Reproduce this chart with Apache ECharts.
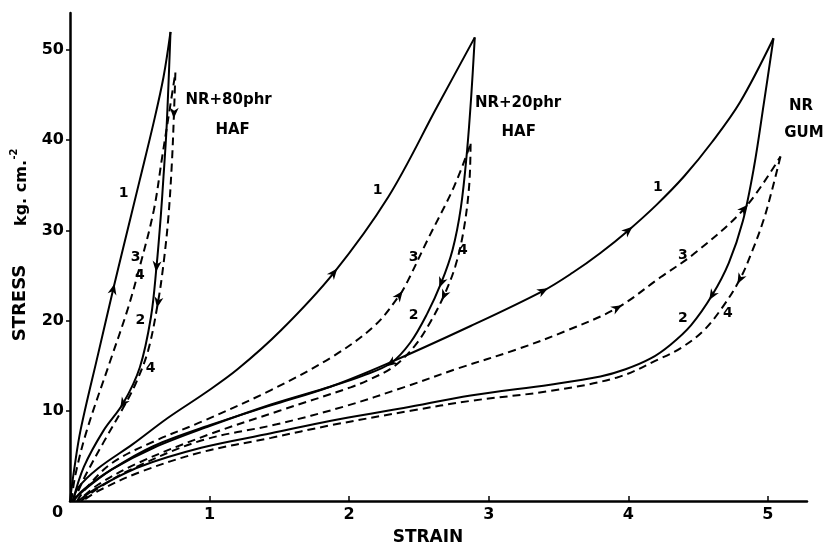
<!DOCTYPE html>
<html>
<head>
<meta charset="utf-8">
<script src="https://cdn.jsdelivr.net/npm/echarts@6/dist/echarts.min.js"></script>
<style>
html, body { margin: 0; padding: 0; background: #fff; }
#chart { width: 827px; height: 547px; }
</style>
</head>
<body>
<div id="chart"></div>
<script>
// [strain, stress]; 1,3 = loading, 2,4 = unloading
var nr80_1 = [[0, 0], [0.03, 3.5], [0.075, 7.8], [0.2, 16.2], [0.31, 23.5], [0.38, 28], [0.5, 35.6], [0.6, 42], [0.67, 47], [0.72, 52]];
var nr80_2 = [[0.72, 52], [0.705, 46], [0.69, 40.8], [0.67, 36], [0.65, 31.5], [0.62, 26], [0.58, 20.4], [0.5, 14.8], [0.38, 10.8], [0.24, 7.8], [0.1, 3.8], [0.02, 0]];
var nr80_3 = [[0.01, 0], [0.04, 3], [0.12, 7.8], [0.29, 15.6], [0.41, 21.1], [0.5, 26], [0.6, 32.2], [0.66, 38.1], [0.72, 44], [0.755, 47.5]];
var nr80_4 = [[0.755, 47.5], [0.745, 43], [0.73, 37.5], [0.705, 31.5], [0.67, 26.3], [0.63, 22], [0.56, 16.7], [0.47, 13], [0.38, 10.3], [0.24, 6.5], [0.1, 2.5], [0.03, 0]];

var nr20_1 = [[0.02, 0], [0.06, 1.5], [0.2, 3.6], [0.45, 6.3], [0.7, 9.2], [0.97, 12], [1.2, 14.6], [1.51, 18.9], [1.89, 25.3], [2.28, 33.7], [2.63, 43.7], [2.9, 51.4]];
var nr20_2 = [[2.9, 51.4], [2.875, 45], [2.845, 38.9], [2.8, 32.5], [2.74, 27.8], [2.66, 24.2], [2.56, 20.8], [2.44, 17.6], [2.3, 15.3], [2.1, 13.9], [1.87, 12.7], [1.44, 10.7], [1.0, 8.3], [0.6, 5.9], [0.3, 3.5], [0.1, 1.3], [0.02, 0]];
var nr20_3 = [[0.05, 0], [0.12, 1.5], [0.3, 4.2], [0.6, 6.6], [0.96, 8.9], [1.44, 12.3], [1.87, 15.9], [2.18, 19.4], [2.36, 22.8], [2.42, 24.4], [2.56, 28.9], [2.75, 34.8], [2.87, 39.6]];
var nr20_4 = [[2.87, 39.6], [2.86, 35], [2.82, 30], [2.76, 26], [2.68, 22.8], [2.58, 19.8], [2.47, 17.2], [2.32, 14.9], [2.15, 13.5], [2.01, 12.6], [1.5, 10], [1.0, 7.4], [0.5, 4.3], [0.2, 1.8], [0.06, 0]];

var gum_1 = [[0.02, 0], [0.1, 1.2], [0.3, 3.5], [0.6, 6.1], [1.0, 8.4], [1.44, 10.6], [1.87, 12.7], [2.27, 15.2], [2.87, 19.4], [3.39, 23.3], [3.6, 25.3], [3.8, 27.5], [4.0, 30], [4.2, 32.8], [4.4, 36], [4.6, 39.8], [4.8, 44.2], [5.04, 51.3]];
var gum_2 = [[5.04, 51.3], [4.97, 44], [4.9, 37], [4.82, 31], [4.72, 26.4], [4.6, 22.8], [4.45, 19.5], [4.3, 17.3], [4.16, 15.8], [3.98, 14.6], [3.8, 13.8], [3.44, 12.9], [2.87, 11.7], [2.39, 10.3], [1.87, 8.9], [1.44, 7.5], [0.94, 5.9], [0.5, 3.8], [0.2, 1.5], [0.06, 0]];
var gum_3 = [[0.08, 0], [0.2, 1.4], [0.45, 3.6], [0.94, 6.7], [1.48, 8.5], [1.97, 10.5], [2.39, 12.6], [2.78, 14.7], [3.2, 16.8], [3.56, 18.9], [3.92, 21.4], [4.23, 24.8], [4.47, 27.4], [4.83, 32.4], [5.09, 38.2]];
var gum_4 = [[5.09, 38.2], [5.03, 34.5], [4.97, 31.2], [4.89, 27.8], [4.8, 24.6], [4.68, 21.6], [4.54, 18.9], [4.38, 17], [4.23, 15.8], [3.92, 13.7], [3.44, 12.2], [2.87, 11.1], [2.44, 10], [1.87, 8.4], [1.44, 7], [0.94, 5.4], [0.5, 3.2], [0.2, 1.1], [0.09, 0]];

var xTicks = [1, 2, 3, 4, 5];
var yTicks = [10, 20, 30, 40, 50];

// arrowheads: curve, strain, stress (they point the way the curve runs)
var arrows = [
  [nr80_1, 0.31, 23.5], [nr80_2, 0.62, 26], [nr80_2, 0.38, 10.8], [nr80_4, 0.63, 22], [nr80_4, 0.745, 43],
  [nr20_1, 1.89, 25.3], [nr20_3, 2.36, 22.8], [nr20_2, 2.66, 24.2], [nr20_4, 2.68, 22.8], [nr20_2, 2.3, 15.3],
  [gum_1, 3.39, 23.3], [gum_1, 4.0, 30], [gum_3, 3.92, 21.4], [gum_3, 4.83, 32.4], [gum_2, 4.6, 22.8], [gum_4, 4.8, 24.6]
];

// curve numbers and group names
var curveNumbers = [
  ['1', 0.384, 34.1], ['3', 0.47, 27.0], ['4', 0.5, 25.0], ['2', 0.505, 20.0], ['4', 0.577, 14.7],
  ['1', 2.204, 34.4], ['3', 2.462, 27.0], ['4', 2.814, 27.8], ['2', 2.462, 20.6],
  ['1', 4.211, 34.8], ['3', 4.391, 27.2], ['2', 4.391, 20.3], ['4', 4.713, 20.8]
];
var groupNames = [
  ['NR+80phr', 1.136, 44.4], ['HAF', 1.165, 41.1],
  ['NR+20phr', 3.21, 44.1], ['HAF', 3.215, 40.9],
  ['NR', 5.237, 43.8], ['GUM', 5.258, 40.8]
];

var curves = [
  { data: nr80_1, dashed: false }, { data: nr80_2, dashed: false }, { data: nr80_3, dashed: true }, { data: nr80_4, dashed: true },
  { data: nr20_1, dashed: false }, { data: nr20_2, dashed: false }, { data: nr20_3, dashed: true }, { data: nr20_4, dashed: true },
  { data: gum_1, dashed: false }, { data: gum_2, dashed: false }, { data: gum_3, dashed: true }, { data: gum_4, dashed: true }
];

var FONT = 'DejaVu Sans';
var chart = echarts.init(document.getElementById('chart'));

var series = curves.map(function (c) {
  return {
    type: 'line',
    data: c.data,
    smooth: 0.35,
    showSymbol: false,
    silent: true,
    lineStyle: { color: '#000', width: 2, type: c.dashed ? [8, 5] : 'solid' }
  };
});

function textSeries(items, size) {
  return {
    type: 'scatter',
    symbolSize: 0,
    silent: true,
    itemStyle: { opacity: 1 },
    data: items.map(function (n) { return { name: n[0], value: [n[1], n[2]] }; }),
    label: { show: true, position: 'inside', formatter: '{b}', color: '#000', opacity: 1, fontFamily: FONT, fontWeight: 'bold', fontSize: size }
  };
}
series.push(textSeries(curveNumbers, 14));
series.push(textSeries(groupNames, 15));

chart.setOption({
  animation: false,
  backgroundColor: '#fff',
  grid: { left: 70, right: 20, top: 13, bottom: 46 },
  xAxis: {
    type: 'value', min: 0, max: 5.28,
    splitLine: { show: false },
    axisLine: { lineStyle: { color: '#000', width: 2.5 } },
    axisTick: { inside: true, length: 5, customValues: xTicks, lineStyle: { color: '#000', width: 1.5 } },
    axisLabel: { customValues: xTicks, color: '#000', fontFamily: FONT, fontWeight: 'bold', fontSize: 16, margin: 6 }
  },
  yAxis: {
    type: 'value', min: 0, max: 54.1,
    splitLine: { show: false },
    axisLine: { show: true, lineStyle: { color: '#000', width: 2.5 } },
    axisTick: { show: true, length: 4, customValues: yTicks, lineStyle: { color: '#000', width: 1.5 } },
    axisLabel: { customValues: yTicks, color: '#000', fontFamily: FONT, fontWeight: 'bold', fontSize: 16, margin: 6 }
  },
  graphic: [
    { type: 'text', left: 52, top: 505, style: { text: '0', fill: '#000', font: 'bold 16px "DejaVu Sans"' } },
    { type: 'text', x: 428, y: 538, style: { text: 'STRAIN', fill: '#000', font: 'bold 17px "DejaVu Sans"', align: 'center', verticalAlign: 'middle' } },
    { type: 'text', x: 20, y: 303, rotation: Math.PI / 2, style: { text: 'STRESS', fill: '#000', font: 'bold 18px "DejaVu Sans"', align: 'center', verticalAlign: 'middle' } },
    { type: 'text', x: 22, y: 193, rotation: Math.PI / 2, style: { text: 'kg. cm.', fill: '#000', font: 'bold 16px "DejaVu Sans"', align: 'center', verticalAlign: 'middle' } },
    { type: 'text', x: 14, y: 154, rotation: Math.PI / 2, style: { text: '-2', fill: '#000', font: 'bold 10px "DejaVu Sans"', align: 'center', verticalAlign: 'middle' } }
  ],
  series: series
});

// arrowheads, turned along the curve in pixel space
function nearestIndex(pts, x, y) {
  var best = 0, bd = Infinity;
  pts.forEach(function (p, i) {
    var d = Math.pow((p[0] - x) * 10, 2) + Math.pow(p[1] - y, 2);
    if (d < bd) { bd = d; best = i; }
  });
  return best;
}
var arrowData = arrows.map(function (a) {
  var pts = a[0];
  var i = nearestIndex(pts, a[1], a[2]);
  var p0 = chart.convertToPixel({ gridIndex: 0 }, pts[Math.max(0, i - 1)]);
  var p1 = chart.convertToPixel({ gridIndex: 0 }, pts[Math.min(pts.length - 1, i + 1)]);
  var deg = Math.atan2(-(p1[1] - p0[1]), p1[0] - p0[0]) * 180 / Math.PI;
  return { value: [a[1], a[2]], symbolRotate: deg };
});
series.push({
  type: 'scatter',
  silent: true,
  symbol: 'path://M0,0L12,5L0,10L3.5,5Z',
  symbolSize: [11, 9],
  itemStyle: { color: '#000', opacity: 1 },
  data: arrowData
});
chart.setOption({ series: series });
</script>
</body>
</html>
